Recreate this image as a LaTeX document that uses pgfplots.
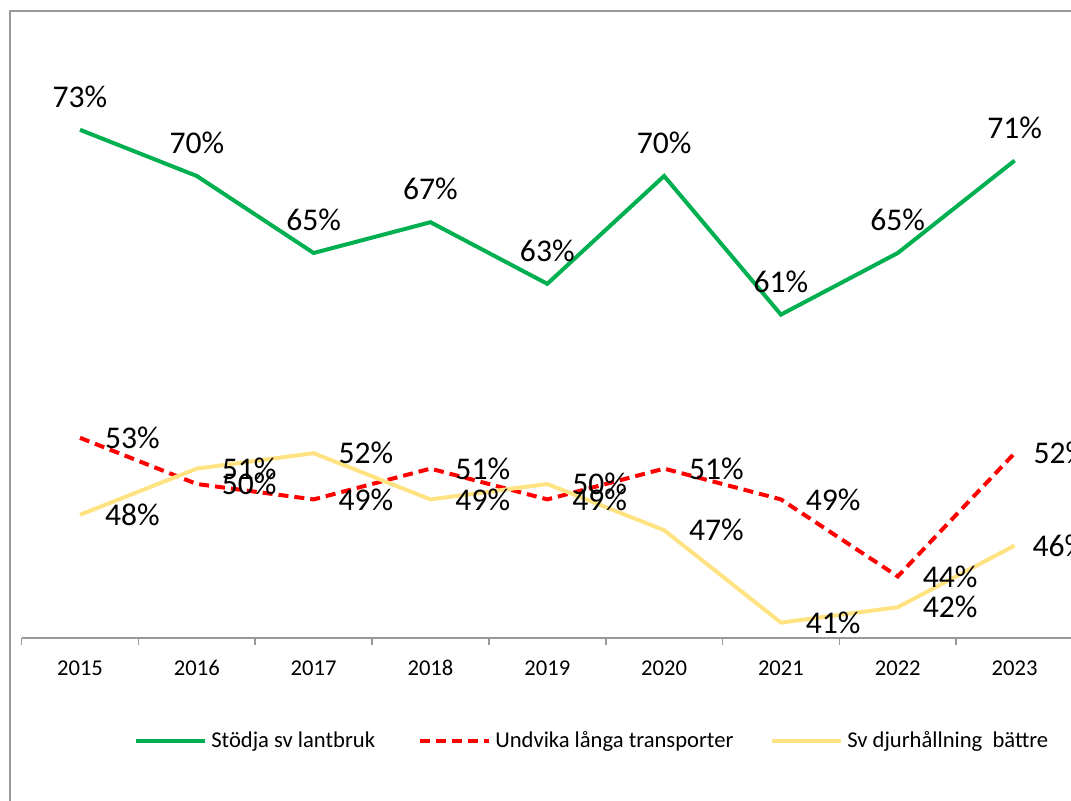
\documentclass[border=0pt]{standalone}
\usepackage{fontspec}
\setmainfont{Carlito}
\usepackage{pgfplots}
\pgfplotsset{compat=1.18}
\definecolor{cgreen}{HTML}{00B050}
\definecolor{cred}{HTML}{FF0000}
\definecolor{cyellow}{HTML}{FFE382}
\begin{document}
\begin{tikzpicture}
\draw[gray!80, line width=0.8pt] (5pt,-10pt) -- (5pt,394.5pt) -- (560pt,394.5pt);
\begin{axis}[
  at={(10.8pt,81pt)}, anchor=south west,
  scale only axis, width=525.7pt, height=308pt,
  xmin=-0.5, xmax=8.5, ymin=40, ymax=80,
  axis y line=none, axis x line*=bottom,
  x axis line style={gray!80, line width=0.8pt},
  xtick={0,...,8},
  xticklabels={2015,2016,2017,2018,2019,2020,2021,2022,2023},
  major tick length=0pt,
  minor xtick={-0.5,0.5,...,8.5},
  minor tick length=3.5pt,
  tick align=outside,
  minor tick style={gray!80, line width=0.8pt},
  xticklabel style={font=\fontsize{11.3}{13}\selectfont, anchor=base, yshift=-18.5pt},
  clip=false,
  point meta=explicit symbolic,
  nodes near coords,
  every node near coord/.append style={font=\fontsize{15.8}{18}\selectfont, text=black, inner sep=0pt},
  legend columns=3,
  legend style={at={(0.539,-0.167)}, anchor=center, draw=none, fill=none,
    font=\fontsize{11.3}{13}\selectfont,
    /tikz/every even column/.append style={column sep=24pt}},
  legend image code/.code={\draw[#1] (0pt,0pt) -- (34.5pt,0pt);},
]
\addplot[cgreen, line width=2pt, mark=none,
  every node near coord/.append style={anchor=center, yshift=16.5pt}]
  coordinates {(0,73) [73\%] (1,70) [70\%] (2,65) [65\%] (3,67) [67\%] (4,63) [63\%]
    (5,70) [70\%] (6,61) [61\%] (7,65) [65\%] (8,71) [71\%]};
\addlegendentry{\makebox[77.5pt][l]{Stödja sv lantbruk}}
\addplot[cred, line width=2pt, dash pattern=on 5pt off 3pt, mark=none,
  every node near coord/.append style={anchor=west, xshift=11.5pt, solid}]
  coordinates {(0,53) [53\%] (1,50) [50\%] (2,49) [49\%] (3,51) [51\%] (4,49) [49\%]
    (5,51) [51\%] (6,49) [49\%] (7,44) [44\%] (8,52) [\kern-3pt52\%]};
\addlegendentry{\makebox[111.5pt][l]{Undvika långa transporter}}
\addplot[cyellow, line width=2pt, mark=none,
  every node near coord/.append style={anchor=west, xshift=11.5pt}]
  coordinates {(0,48) [48\%] (1,51) [51\%] (2,52) [52\%] (3,49) [49\%] (4,50) [50\%]
    (5,47) [47\%] (6,41) [41\%] (7,42) [42\%] (8,46) [\kern-3.5pt46\%]};
\addlegendentry{\makebox[95.5pt][l]{Sv djurhållning\ \ bättre}}
\end{axis}
\pgfresetboundingbox
\useasboundingbox (0,0) rectangle (535.5pt,400pt);
\end{tikzpicture}
\end{document}
